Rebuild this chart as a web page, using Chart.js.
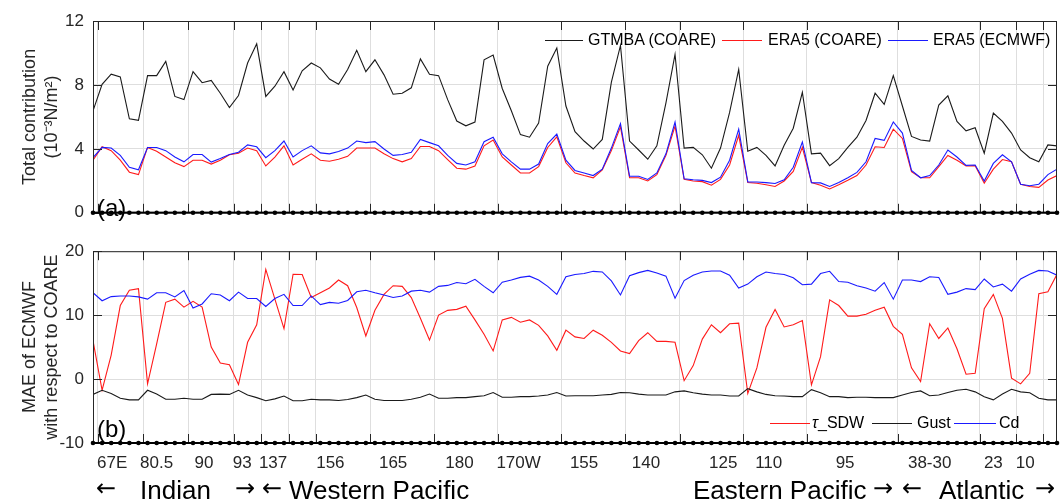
<!DOCTYPE html>
<html>
<head>
<meta charset="utf-8">
<script src="https://cdn.jsdelivr.net/npm/chart.js@4/dist/chart.umd.min.js"></script>
<style>
    body { margin: 0; background: #fff; }
    #wrap { position: relative; width: 1061px; height: 503px; overflow: hidden; font-family: 'Liberation Sans', Arial, sans-serif; color: #000; }
    #topChart { position: absolute; left: 0; top: 0; }
    #bottomChart { position: absolute; left: 0; top: 232px; }
    .txt { position: absolute; white-space: nowrap; line-height: 1; }
    .leg { position: absolute; font-size: 16px; line-height: 1; white-space: nowrap; }
    .sw { position: absolute; height: 1px; }
    .region { position: absolute; font-size: 26px; line-height: 1; white-space: nowrap; top: 477px; }
    .arrow { position: absolute; font-size: 24px; line-height: 1; top: 476px; font-family: 'DejaVu Sans', sans-serif; }
</style>
</head>
<body>
<div id="wrap">
    <canvas id="topChart" width="1061" height="232"></canvas>
    <canvas id="bottomChart" width="1061" height="271"></canvas>

    <!-- legend panel (a) -->
    <span class="sw" style="left:545px; top:40px; width:38px; background:#1a1a1a;"></span>
    <span class="leg" style="left:588px; top:32px;">GTMBA (COARE)</span>
    <span class="sw" style="left:722px; top:40px; width:40px; background:#ff1a1a;"></span>
    <span class="leg" style="left:768px; top:32px;">ERA5 (COARE)</span>
    <span class="sw" style="left:888px; top:40px; width:40px; background:#1a1aff;"></span>
    <span class="leg" style="left:933px; top:32px;">ERA5 (ECMWF)</span>

    <!-- legend panel (b) -->
    <span class="sw" style="left:770px; top:423px; width:40px; background:#ff1a1a;"></span>
    <span class="leg" style="left:812px; top:415px;"><i>τ</i>_SDW</span>
    <span class="sw" style="left:872px; top:423px; width:40px; background:#1a1a1a;"></span>
    <span class="leg" style="left:917px; top:415px;">Gust</span>
    <span class="sw" style="left:954px; top:423px; width:42px; background:#1a1aff;"></span>
    <span class="leg" style="left:999px; top:415px;">Cd</span>

    <span class="txt" style="left:97px; top:196px; font-size:24px;">(a)</span>
    <span class="txt" style="left:97px; top:417px; font-size:24px;">(b)</span>

    <!-- basin labels -->
    <span class="arrow" style="left:96px;">←</span>
    <span class="region" style="left:140px;">Indian</span>
    <span class="arrow" style="left:235px;">→</span>
    <span class="arrow" style="left:262px;">←</span>
    <span class="region" style="left:289px;">Western Pacific</span>
    <span class="region" style="left:693px;">Eastern Pacific</span>
    <span class="arrow" style="left:873px;">→</span>
    <span class="arrow" style="left:902px;">←</span>
    <span class="region" style="left:939px;">Atlantic</span>
    <span class="arrow" style="left:1035px;">→</span>
</div>

<script>
// station-by-station values (x = station number along the track)
const gtmbaCoare = [
    6.38, 8.04, 8.67, 8.5, 5.88, 5.78, 8.58, 8.58, 9.47, 7.28,
    7.08, 8.83, 8.14, 8.28, 7.48, 6.58, 7.34, 9.37, 10.57, 7.28,
    7.92, 8.83, 7.68, 8.88, 9.37, 9.07, 8.37, 8.04, 8.97, 10.17,
    8.83, 9.57, 8.63, 7.42, 7.48, 7.82, 9.63, 8.67, 8.58, 7.08,
    5.74, 5.44, 5.68, 9.57, 9.87, 7.78, 6.38, 4.89, 4.73, 5.62,
    9.17, 10.31, 6.68, 5.08, 4.49, 3.99, 4.59, 8.18, 10.47, 4.49,
    3.93, 3.35, 4.19, 6.88, 9.91, 4.05, 4.09, 3.63, 2.79, 4.05,
    6.28, 8.97, 3.85, 4.09, 3.59, 2.93, 4.23, 5.29, 7.54, 3.69,
    3.73, 2.95, 3.39, 4.09, 4.73, 5.78, 7.48, 6.78, 8.58, 6.68,
    4.78, 4.55, 4.49, 6.74, 7.32, 5.72, 5.13, 5.32, 3.73, 6.24,
    5.72, 4.99, 3.93, 3.45, 3.19, 4.25, 4.19
];
const era5Coare = [
    3.29, 4.13, 3.89, 3.29, 2.54, 2.39, 4.09, 3.85, 3.49, 3.13,
    2.89, 3.29, 3.29, 3.05, 3.29, 3.63, 3.73, 4.05, 3.89, 2.93,
    3.49, 4.19, 2.99, 3.35, 3.69, 3.29, 3.23, 3.35, 3.53, 4.05,
    4.05, 4.05, 3.69, 3.39, 3.19, 3.39, 4.15, 4.15, 3.89, 3.33,
    2.79, 2.73, 2.93, 4.19, 4.55, 3.49, 2.99, 2.49, 2.49, 2.89,
    4.09, 4.75, 3.13, 2.49, 2.33, 2.19, 2.69, 3.89, 5.38, 2.19,
    2.19, 1.99, 2.39, 3.59, 5.42, 2.09, 1.99, 1.95, 1.73, 2.09,
    2.99, 4.85, 1.89, 1.85, 1.75, 1.65, 1.99, 2.59, 4.09, 1.89,
    1.73, 1.49, 1.75, 2.03, 2.33, 2.99, 4.13, 4.09, 5.23, 4.65,
    2.57, 2.19, 2.19, 2.89, 3.59, 3.29, 2.93, 2.95, 1.85, 2.73,
    3.33, 3.19, 1.79, 1.65, 1.59, 2.05, 2.33
];
const era5Ecmwf = [
    3.45, 4.09, 4.05, 3.59, 2.85, 2.69, 4.09, 4.09, 3.89, 3.49,
    3.19, 3.65, 3.65, 3.17, 3.39, 3.65, 3.79, 4.25, 4.13, 3.45,
    3.89, 4.49, 3.49, 3.89, 4.19, 3.75, 3.69, 3.83, 4.05, 4.49,
    4.39, 4.45, 3.99, 3.59, 3.65, 3.79, 4.59, 4.39, 4.19, 3.59,
    3.09, 2.99, 3.19, 4.45, 4.73, 3.69, 3.19, 2.73, 2.73, 3.05,
    4.33, 4.93, 3.29, 2.65, 2.49, 2.33, 2.73, 4.05, 5.58, 2.29,
    2.29, 2.09, 2.49, 3.69, 5.68, 2.13, 2.07, 2.03, 1.89, 2.23,
    3.29, 5.23, 1.93, 1.93, 1.89, 1.83, 2.07, 2.85, 4.43, 1.89,
    1.87, 1.65, 1.89, 2.19, 2.53, 3.19, 4.65, 4.53, 5.68, 4.99,
    2.65, 2.19, 2.33, 2.99, 3.93, 3.49, 2.97, 2.99, 1.99, 3.09,
    3.63, 3.19, 1.79, 1.69, 1.79, 2.39, 2.73
];

const tauSdw = [
    6.0, -1.75, 3.75, 11.5, 13.9, 14.15, -0.75, 5.5, 12.0, 12.5,
    11.25, 12.15, 11.25, 5.0, 2.5, 2.25, -0.85, 5.75, 8.5, 17.15,
    12.5, 7.9, 16.4, 16.35, 12.75, 13.5, 14.25, 15.5, 14.6, 11.2,
    6.75, 10.75, 13.25, 14.6, 14.5, 12.75, 9.5, 6.1, 10.0, 10.75,
    10.9, 11.4, 9.25, 7.0, 4.4, 9.25, 9.65, 8.9, 9.25, 8.4,
    6.75, 4.5, 7.65, 6.6, 6.35, 7.65, 6.85, 5.75, 4.4, 4.0,
    6.0, 7.25, 5.9, 5.9, 5.75, -0.25, 2.1, 6.25, 8.5, 7.25,
    8.65, 8.75, -2.25, 1.75, 8.1, 10.9, 8.15, 8.5, 9.15, -0.9,
    3.5, 12.4, 11.5, 9.85, 9.85, 10.15, 10.75, 11.25, 8.25, 7.0,
    1.75, -0.4, 8.65, 6.35, 8.0, 4.75, 0.75, 0.9, 11.0, 13.25,
    9.5, 0.15, -0.75, 0.9, 13.35, 13.65, 16.4
];
const gust = [
    -2.4, -1.75, -2.25, -3.0, -3.25, -3.25, -1.75, -2.35, -3.15, -3.15,
    -3.0, -3.15, -3.15, -2.4, -2.35, -2.4, -1.75, -2.5, -2.9, -3.4,
    -3.1, -2.65, -3.4, -3.4, -3.15, -3.25, -3.25, -3.35, -3.2, -2.9,
    -2.5, -3.15, -3.35, -3.35, -3.35, -3.15, -2.85, -2.35, -3.0, -3.0,
    -2.9, -2.9, -2.75, -2.6, -2.1, -2.85, -2.85, -2.75, -2.75, -2.65,
    -2.5, -2.1, -2.65, -2.6, -2.6, -2.6, -2.5, -2.4, -2.1, -2.15,
    -2.35, -2.5, -2.5, -2.5, -2.0, -1.85, -2.15, -2.35, -2.5, -2.5,
    -2.65, -2.65, -1.5, -2.0, -2.4, -2.6, -2.65, -2.75, -2.75, -1.65,
    -2.15, -2.75, -2.75, -2.9, -2.85, -2.85, -2.9, -2.9, -2.9, -2.5,
    -2.1, -1.85, -2.6, -2.5, -2.1, -1.75, -1.6, -2.0, -2.75, -3.25,
    -2.35, -1.6, -2.0, -2.15, -3.0, -3.25, -3.25
];
const cd = [
    13.5, 12.25, 12.9, 13.0, 13.0, 12.85, 12.5, 13.5, 13.5, 12.85,
    13.85, 11.1, 11.75, 13.35, 13.15, 12.25, 13.6, 12.6, 12.6, 11.35,
    12.6, 13.25, 11.5, 11.5, 13.0, 11.65, 12.0, 11.85, 12.3, 13.65,
    13.9, 13.5, 13.15, 12.75, 13.0, 13.75, 13.9, 13.6, 14.5, 14.65,
    15.1, 14.9, 15.6, 14.5, 13.5, 15.15, 15.5, 15.9, 16.1, 15.5,
    14.5, 13.25, 16.0, 16.35, 16.5, 16.85, 16.75, 15.35, 13.15, 16.15,
    16.65, 17.0, 16.6, 16.1, 12.65, 15.4, 16.25, 16.75, 16.9, 16.9,
    16.25, 14.25, 14.85, 16.0, 16.75, 16.5, 16.35, 15.85, 14.75, 14.85,
    16.5, 16.85, 15.25, 15.15, 14.6, 14.25, 13.75, 15.1, 12.5, 15.5,
    15.5, 15.25, 16.0, 15.9, 13.25, 13.6, 14.15, 14.0, 15.65, 14.4,
    14.85, 13.75, 15.65, 16.4, 17.0, 16.9, 16.25
];

// longitude labels and where they sit along the station axis
const tickLabels = ['67E', '80.5', '90', '93', '137', '156', '165', '180', '170W', '155', '140', '125', '110', '95', '38-30', '23', '10'];
const tickPositions = [2.1, 7, 12.2, 16.4, 19.8, 26.1, 33, 40.3, 46.8, 54, 60.8, 69.3, 74.3, 82.7, 92, 99, 102.5];
// vertical grid lines between mooring groups
const groupEdges = [0.5, 5.5, 10.5, 15.5, 18.5, 21.5, 24.5, 30.5, 37.5, 44.5, 51.5, 58.5, 64.5, 71.5, 78.5, 88.5, 97.5, 101.5, 104.5];

const stationIndex = gtmbaCoare.map((_, i) => i);
const lastStation = stationIndex[stationIndex.length - 1];

Chart.defaults.font.family = "'Liberation Sans', Arial, sans-serif";
Chart.defaults.color = '#262626';

const asPoints = vals => vals.map((v, i) => ({ x: stationIndex[i], y: v }));

const lineSet = (label, vals, color, order) => ({
    label,
    data: asPoints(vals),
    borderColor: color,
    borderWidth: 1.1,
    pointRadius: 0,
    tension: 0,
    order
});

// box, inward ticks and station dots along the bottom axis
const framePlugin = {
    id: 'frame',
    afterDraw(chart) {
        const { ctx, chartArea: a, scales } = chart;
        const xs = scales.x;
        const ys = scales.y;
        ctx.save();
        ctx.strokeStyle = '#262626';
        ctx.lineWidth = 1;
        ctx.strokeRect(a.left + 0.5, a.top + 0.5, a.right - a.left - 1, a.bottom - a.top - 1);

        ctx.beginPath();
        groupEdges.forEach(v => {
            const px = Math.round(xs.getPixelForValue(v)) + 0.5;
            ctx.moveTo(px, a.top);
            ctx.lineTo(px, a.top + 9);
            ctx.moveTo(px, a.bottom);
            ctx.lineTo(px, a.bottom - 9);
        });
        ys.ticks.forEach(t => {
            const py = Math.round(ys.getPixelForValue(t.value)) + 0.5;
            ctx.moveTo(a.left, py);
            ctx.lineTo(a.left + 9, py);
            ctx.moveTo(a.right, py);
            ctx.lineTo(a.right - 9, py);
        });
        ctx.stroke();

        ctx.strokeStyle = '#000';
        ctx.lineWidth = 2;
        ctx.beginPath();
        ctx.moveTo(a.left, a.bottom);
        ctx.lineTo(a.right, a.bottom);
        ctx.stroke();

        ctx.fillStyle = '#000';
        stationIndex.forEach(i => {
            ctx.beginPath();
            ctx.arc(xs.getPixelForValue(i), a.bottom, 2.3, 0, Math.PI * 2);
            ctx.fill();
        });
        ctx.restore();
    }
};

function gridAxis() {
    return {
        type: 'linear',
        position: 'bottom',
        min: 0,
        max: lastStation,
        afterBuildTicks: s => { s.ticks = groupEdges.map(v => ({ value: v })); },
        afterFit: s => { s.height = 0; },
        ticks: { display: false },
        grid: { color: '#dedede', lineWidth: 1, drawTicks: false },
        border: { display: false }
    };
}

function yAxis(min, max, step, title) {
    return {
        min,
        max,
        afterFit: s => { s.width = 93; },
        ticks: { stepSize: step, padding: 9, font: { size: 17 } },
        grid: { color: '#dedede', drawTicks: false },
        border: { display: false },
        title: {
            display: true,
            text: title,
            font: { size: 18, lineHeight: 1.22 },
            padding: { top: 19, bottom: 0 },
            color: '#262626'
        }
    };
}

new Chart(document.getElementById('topChart'), {
    type: 'line',
    data: {
        datasets: [
            lineSet('GTMBA (COARE)', gtmbaCoare, '#1a1a1a', 2),
            lineSet('ERA5 (COARE)', era5Coare, '#ff1a1a', 1),
            lineSet('ERA5 (ECMWF)', era5Ecmwf, '#1a1aff', 0)
        ]
    },
    options: {
        responsive: false,
        animation: false,
        devicePixelRatio: 1,
        layout: { padding: { top: 21, right: 4, bottom: 10, left: 0 } },
        scales: {
            x: gridAxis(),
            y: yAxis(0, 12, 4, ['Total contribution', '(10\u207B\u00B3N/m\u00B2)'])
        },
        plugins: { legend: { display: false }, tooltip: { enabled: false } }
    },
    plugins: [framePlugin]
});

new Chart(document.getElementById('bottomChart'), {
    type: 'line',
    data: {
        datasets: [
            lineSet('\u03C4_SDW', tauSdw, '#ff1a1a', 2),
            lineSet('Gust', gust, '#1a1a1a', 1),
            lineSet('Cd', cd, '#1a1aff', 0)
        ]
    },
    options: {
        responsive: false,
        animation: false,
        devicePixelRatio: 1,
        layout: { padding: { top: 11, right: 4, bottom: 20, left: 0 } },
        scales: {
            x: gridAxis(),
            xl: {
                type: 'linear',
                position: 'bottom',
                min: 0,
                max: lastStation,
                afterBuildTicks: s => { s.ticks = tickPositions.map(v => ({ value: v })); },
                afterFit: s => { s.height = 40; },
                ticks: {
                    autoSkip: false,
                    maxRotation: 0,
                    padding: 10,
                    font: { size: 17 },
                    callback: (v, i) => tickLabels[i]
                },
                grid: { display: false, drawTicks: false },
                border: { display: false }
            },
            y: yAxis(-10, 20, 10, ['MAE of ECMWF', 'with respect to COARE'])
        },
        plugins: { legend: { display: false }, tooltip: { enabled: false } }
    },
    plugins: [framePlugin]
});
</script>
</body>
</html>
